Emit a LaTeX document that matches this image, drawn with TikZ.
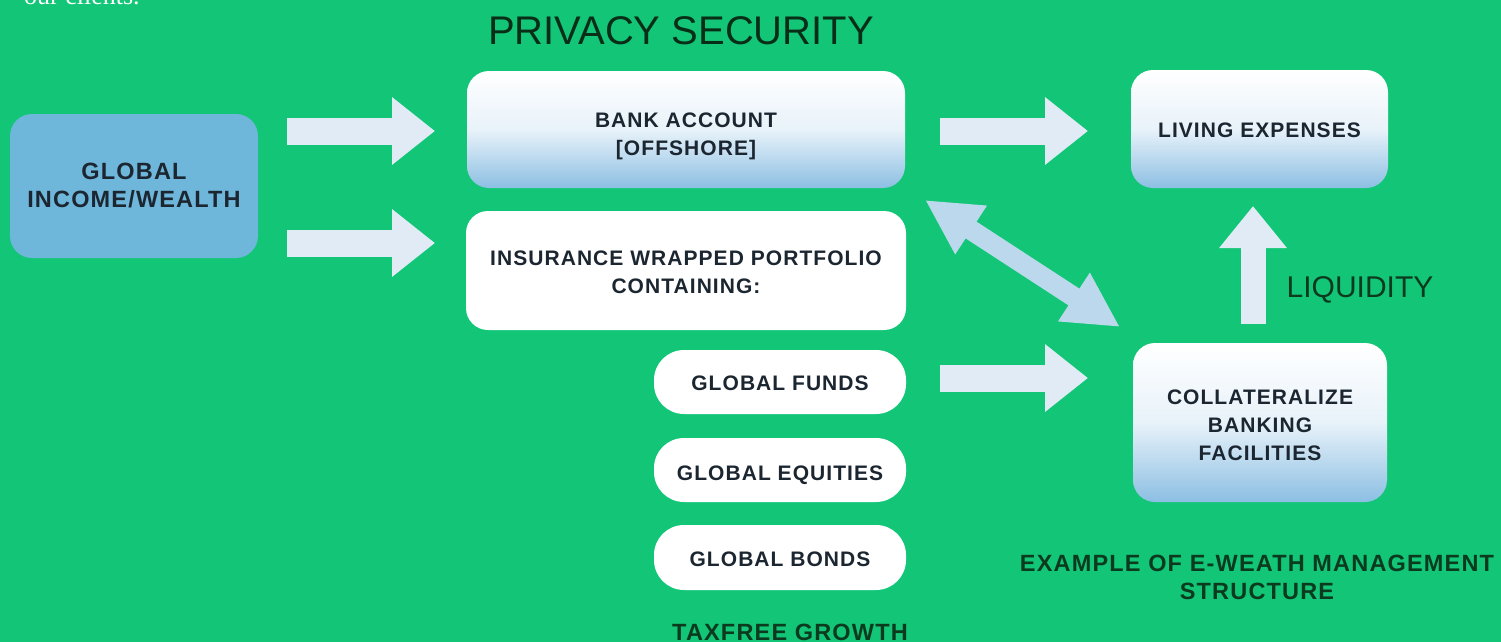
\documentclass[tikz,border=0pt]{standalone}
\usepackage{fontspec}
\setmainfont{Liberation Sans}
\newfontfamily\lbl[LetterSpace=5]{Liberation Sans}
\newfontfamily\serifw{Liberation Serif}
\usetikzlibrary{arrows.meta}
\definecolor{bg}{HTML}{13C677}
\definecolor{boxblue}{HTML}{8CBFE3}
\definecolor{gblue}{HTML}{6EB6DA}
\definecolor{txt}{HTML}{1B2631}
\definecolor{gtxt}{HTML}{0B3A1E}
\definecolor{arrowc}{HTML}{E0EBF6}
\definecolor{darrow}{HTML}{BCD8EC}
\newcommand\lines[2]{\raisebox{#1}[\height][\depth]{\begin{tabular}{@{}c@{}}#2\end{tabular}}}
\tikzset{
  box/.style={rounded corners=22pt, inner sep=0pt, align=center, text=txt,
    font=\lbl\bfseries\fontsize{21}{28}\selectfont},
  gbox/.style={box, top color=white, bottom color=boxblue, middle color=white!80!boxblue},
  wbox/.style={box, fill=white},
  pill/.style={box, fill=white, rounded corners=30pt},
  harrow/.style={draw=arrowc, line width=27pt, -{Triangle[length=43pt,width=65pt]}},
  uarrow/.style={draw=arrowc, line width=25pt, -{Triangle[length=42pt,width=65pt]}},
  darr/.style={draw=darrow, line width=20pt, {Triangle[length=55pt,width=54pt]}-{Triangle[length=55pt,width=54pt]}},
  gtext/.style={text=gtxt, inner sep=0pt, align=center, font=\lbl\bfseries\fontsize{23.5}{28}\selectfont}
}
\begin{document}
\begin{tikzpicture}[x=1pt,y=-1pt]
\clip (0,0) rectangle (1501,642);
\fill[bg] (0,0) rectangle (1501,642);

\node[anchor=base west, inner sep=0pt, text=white, font=\serifw\fontsize{26}{30}\selectfont] (clients) at (24,5) {our clients.};

\node[inner sep=0pt, text=gtxt!80!black, font=\fontsize{40}{44}\selectfont] (privacy) at (681,31) {PRIVACY SECURITY};

\node[box, fill=gblue, minimum width=248pt, minimum height=144pt, font=\lbl\bfseries\fontsize{23.5}{28}\selectfont] (gi) at (134,186) {GLOBAL\\INCOME/WEALTH};

\node[gbox, minimum width=438pt, minimum height=117pt] (bank) at (686,129.5) {\lines{-6pt}{BANK ACCOUNT\\{}[OFFSHORE]}};
\node[wbox, minimum width=440pt, minimum height=119pt] (ins) at (686,270.5) {\lines{-3.5pt}{INSURANCE WRAPPED PORTFOLIO\\CONTAINING:}};

\node[pill, minimum width=252pt, minimum height=64pt] (funds) at (780,382) {\lines{-3pt}{GLOBAL FUNDS}};
\node[pill, minimum width=252pt, minimum height=64pt] (equities) at (780,470) {\lines{-5pt}{GLOBAL EQUITIES}};
\node[pill, minimum width=252pt, minimum height=65pt] (bonds) at (780,557.5) {\lines{-3.5pt}{GLOBAL BONDS}};

\node[gbox, minimum width=257pt, minimum height=118pt] (living) at (1259.5,129) {\lines{-3pt}{LIVING EXPENSES}};
\node[gbox, minimum width=254pt, minimum height=159pt] (coll) at (1260,422.5) {\lines{-4.5pt}{COLLATERALIZE\\BANKING\\FACILITIES}};

\node[inner sep=0pt, text=gtxt, font=\fontsize{30}{34}\selectfont] (liq) at (1360,290) {LIQUIDITY};
\node[gtext] (example) at (1257,577) {EXAMPLE OF E-WEATH MANAGEMENT\\STRUCTURE};
\node[gtext] (tax) at (790,632) {TAXFREE GROWTH};

% arrows
\coordinate (a1s) at (287,131);
\coordinate (a1e) at (435,131);
\coordinate (a2s) at (287,243);
\coordinate (a2e) at (435,243);
\coordinate (a3s) at (940,131);
\coordinate (a3e) at (1088,131);
\coordinate (a4s) at (940,378);
\coordinate (a4e) at (1088,378);
\coordinate (us) at (1253,324);
\coordinate (ue) at (1253,206);
\coordinate (ds) at (925,200);
\coordinate (de) at (1120,327);

\draw[harrow] (a1s) -- (a1e);
\draw[harrow] (a2s) -- (a2e);
\draw[harrow] (a3s) -- (a3e);
\draw[harrow] (a4s) -- (a4e);
\draw[uarrow] (us) -- (ue);
\draw[darr] (ds) -- (de);
\end{tikzpicture}
\end{document}
